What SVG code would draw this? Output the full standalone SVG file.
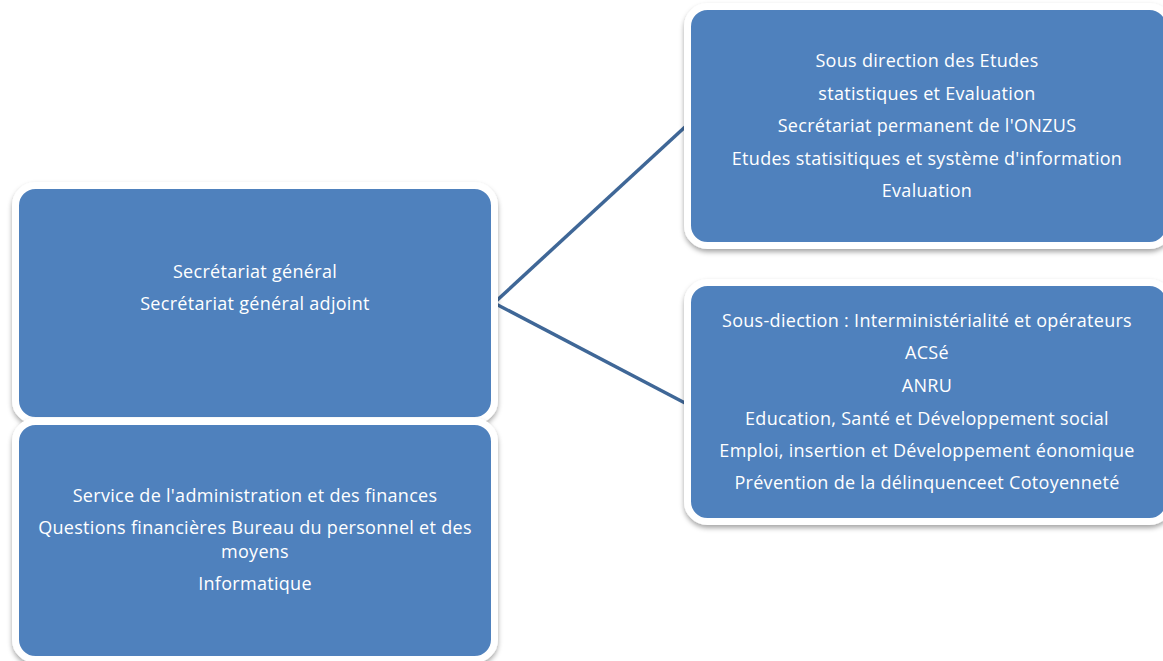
<svg xmlns="http://www.w3.org/2000/svg" width="1163" height="661" viewBox="0 0 1163 661">
<defs>
<filter id="sh" x="-5%" y="-5%" width="110%" height="115%">
<feDropShadow dx="0" dy="3" stdDeviation="2.5" flood-color="#000" flood-opacity="0.35"/>
</filter>
</defs>
<style>
.box{fill:#4F81BD;stroke:#FFFFFF;stroke-width:7;filter:url(#sh)}
.t{font-family:"Open Sans",Lato,sans-serif;font-size:18px;letter-spacing:0.3px;fill:#FFFFFF;text-anchor:middle}
.c{stroke:#3F6797;stroke-width:3.5;fill:none}
</style>
<rect width="1163" height="661" fill="#FFFFFF"/>
<g id="connectors">
<line class="c" x1="494" y1="303" x2="685" y2="127"/>
<line class="c" x1="494" y1="303" x2="685" y2="403"/>
</g>
<g id="node-sg">
<rect class="box" x="15.5" y="185.5" width="479" height="235" rx="20"/>
<text class="t" x="255" y="278">Secrétariat général</text>
<text class="t" x="255" y="310">Secrétariat général adjoint</text>
</g>
<g id="node-saf">
<rect class="box" x="15.5" y="421.5" width="479" height="238" rx="20"/>
<text class="t" x="255" y="502">Service de l'administration et des finances</text>
<text class="t" x="255" y="534">Questions financières Bureau du personnel et des</text>
<text class="t" x="255" y="558">moyens</text>
<text class="t" x="255" y="590">Informatique</text>
</g>
<g id="node-etudes">
<rect class="box" x="687.5" y="6.5" width="482" height="239" rx="20"/>
<text class="t" x="927" y="67">Sous direction des Etudes</text>
<text class="t" x="927" y="100">statistiques et Evaluation</text>
<text class="t" x="927" y="132">Secrétariat permanent de l'ONZUS</text>
<text class="t" x="927" y="165">Etudes statisitiques et système d'information</text>
<text class="t" x="927" y="197">Evaluation</text>
</g>
<g id="node-inter">
<rect class="box" x="687.5" y="282.5" width="482" height="239" rx="20"/>
<text class="t" x="927" y="327">Sous-diection : Interministérialité et opérateurs</text>
<text class="t" x="927" y="359">ACSé</text>
<text class="t" x="927" y="392">ANRU</text>
<text class="t" x="927" y="425">Education, Santé et Développement social</text>
<text class="t" x="927" y="457">Emploi, insertion et Développement éonomique</text>
<text class="t" x="927" y="489">Prévention de la délinquenceet Cotoyenneté</text>
</g>
</svg>
